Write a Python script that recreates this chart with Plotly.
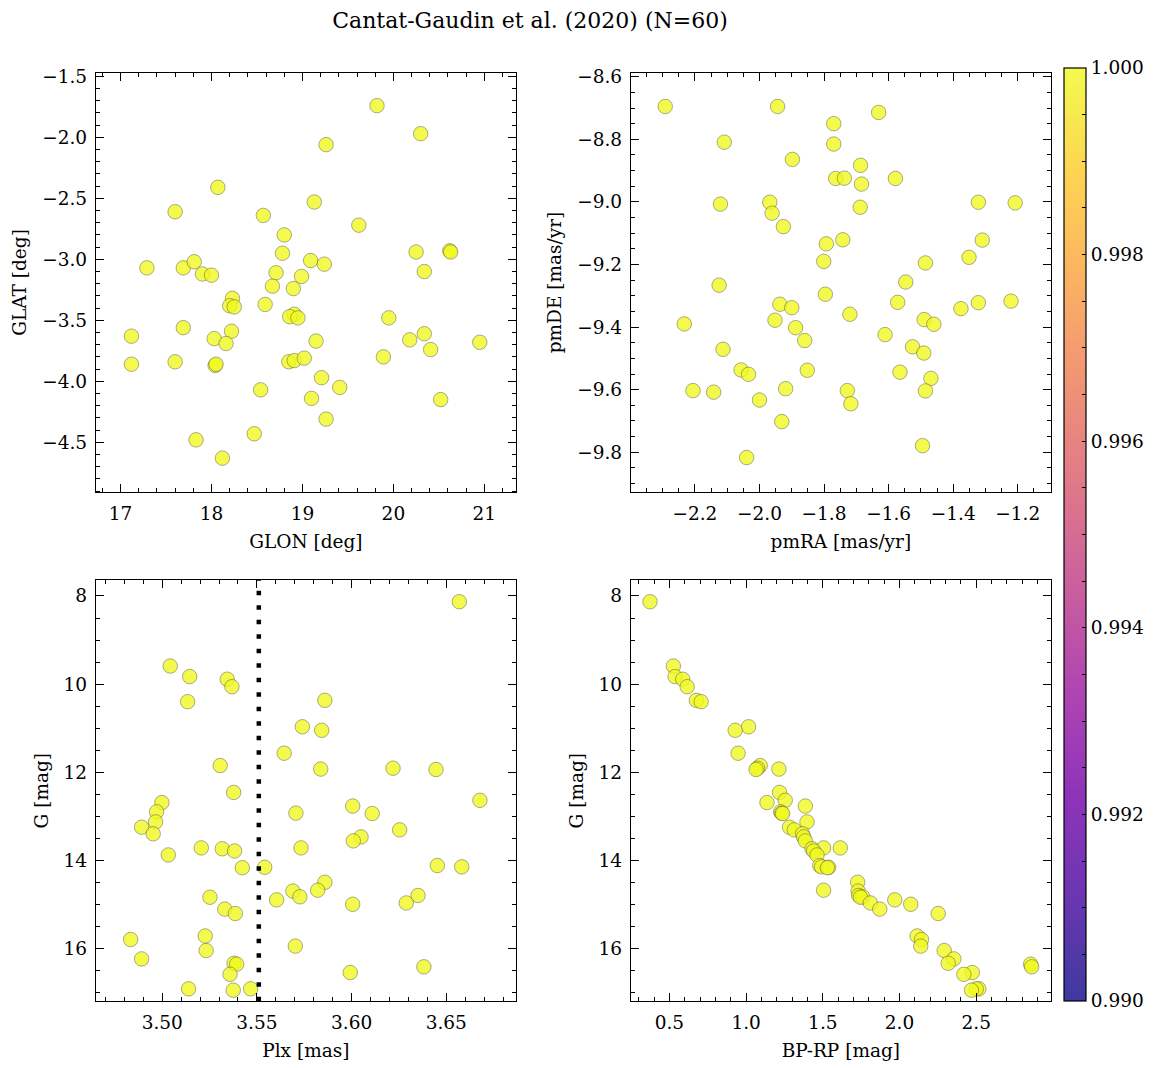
import plotly.graph_objects as go
from plotly.subplots import make_subplots

# galactic coordinates (top left panel)
glon = [19.82, 20.30, 19.26, 18.07, 17.60, 18.57, 19.13, 19.62, 18.80, 18.78,
        20.25, 20.62, 20.63, 20.34, 17.29, 17.69, 17.81, 17.90, 18.00, 18.71,
        18.67, 18.99, 19.09, 19.24, 18.90, 18.23, 18.20, 18.25, 18.59, 18.91,
        18.86, 18.95, 19.95, 17.12, 17.69, 18.03, 18.22, 18.16, 19.15, 20.18,
        20.34, 20.41, 20.95, 17.12, 17.60, 18.04, 18.05, 18.85, 18.91, 19.02,
        19.89, 19.21, 19.41, 18.54, 19.10, 20.52, 19.26, 18.47, 17.83, 18.12]
glat = [-1.74, -1.97, -2.06, -2.41, -2.61, -2.64, -2.53, -2.72, -2.80, -2.95,
        -2.94, -2.93, -2.94, -3.10, -3.07, -3.07, -3.02, -3.12, -3.13, -3.11,
        -3.22, -3.14, -3.01, -3.04, -3.24, -3.32, -3.38, -3.39, -3.37, -3.45,
        -3.47, -3.48, -3.48, -3.63, -3.56, -3.65, -3.59, -3.69, -3.67, -3.66,
        -3.61, -3.74, -3.68, -3.86, -3.84, -3.87, -3.86, -3.84, -3.83, -3.81,
        -3.80, -3.97, -4.05, -4.07, -4.14, -4.15, -4.31, -4.43, -4.48, -4.63]

# proper motions (top right panel)
pmra = [-2.292, -1.944, -1.631, -1.770, -2.109, -1.770, -1.898, -1.687, -1.764, -1.737,
        -1.684, -1.579, -2.121, -1.968, -1.961, -1.688, -1.322, -1.208, -1.926, -1.793,
        -1.742, -1.310, -1.801, -1.351, -1.486, -1.547, -2.125, -1.796, -1.937, -1.900,
        -1.572, -1.376, -1.322, -1.221, -1.720, -2.233, -1.952, -1.888, -1.490, -1.460,
        -1.860, -1.611, -1.526, -1.491, -2.113, -2.057, -2.034, -1.852, -1.565, -1.469,
        -2.206, -2.142, -1.919, -2.000, -1.728, -1.717, -1.486, -1.931, -1.495, -2.040]
pmde = [-8.695, -8.695, -8.714, -8.750, -8.809, -8.815, -8.864, -8.883, -8.925, -8.924,
        -8.943, -8.925, -9.007, -9.001, -9.036, -9.017, -9.001, -9.003, -9.079, -9.134,
        -9.121, -9.122, -9.190, -9.177, -9.195, -9.256, -9.266, -9.295, -9.327, -9.338,
        -9.321, -9.341, -9.322, -9.317, -9.359, -9.390, -9.378, -9.402, -9.376, -9.391,
        -9.443, -9.424, -9.463, -9.483, -9.471, -9.537, -9.551, -9.538, -9.544, -9.564,
        -9.603, -9.608, -9.597, -9.633, -9.603, -9.645, -9.604, -9.702, -9.779, -9.817]

# photometry + parallax (bottom panels), same star order
g_mag = [8.13, 9.59, 9.83, 9.89, 10.06, 10.37, 10.40, 10.97, 11.05, 11.57,
         11.85, 11.91, 11.93, 11.94, 12.46, 12.64, 12.69, 12.77, 12.90, 12.93,
         12.94, 13.13, 13.25, 13.31, 13.40, 13.47, 13.56, 13.72, 13.72, 13.74,
         13.79, 13.88, 14.12, 14.15, 14.16, 14.17, 14.50, 14.68, 14.70, 14.80,
         14.83, 14.84, 14.90, 14.97, 15.00, 15.11, 15.21, 15.72, 15.80, 15.95,
         16.05, 16.24, 16.34, 16.36, 16.42, 16.55, 16.59, 16.92, 16.92, 16.95]
plx = [3.6569, 3.5042, 3.5145, 3.5343, 3.5368, 3.5859, 3.5134, 3.5740, 3.5842, 3.5644,
       3.5306, 3.6219, 3.5837, 3.6446, 3.5377, 3.6678, 3.4998, 3.6006, 3.4970, 3.5706,
       3.6109, 3.4965, 3.4891, 3.6254, 3.4952, 3.6050, 3.6009, 3.5206, 3.5733, 3.5317,
       3.5382, 3.5032, 3.6453, 3.6582, 3.5541, 3.5423, 3.5859, 3.5821, 3.5690, 3.6351,
       3.5727, 3.5252, 3.5604, 3.6289, 3.6006, 3.5330, 3.5386, 3.5227, 3.4833, 3.5703,
       3.5232, 3.4891, 3.5379, 3.5393, 3.6382, 3.5993, 3.5358, 3.5139, 3.5467, 3.5375]
bp_rp = [0.374, 0.526, 0.537, 0.587, 0.616, 0.676, 0.707, 1.016, 0.929, 0.948,
         1.092, 1.075, 1.214, 1.065, 1.218, 1.255, 1.136, 1.386, 1.225, 1.232,
         1.238, 1.397, 1.283, 1.314, 1.368, 1.375, 1.386, 1.505, 1.614, 1.430,
         1.440, 1.462, 1.480, 1.492, 1.538, 1.530, 1.727, 1.505, 1.730, 1.734,
         1.760, 1.745, 1.969, 1.810, 2.073, 1.871, 2.252, 2.115, 2.143, 2.138,
         2.291, 2.354, 2.317, 2.854, 2.861, 2.474, 2.419, 2.517, 2.500, 2.469]

# membership probability (all members at 1.0)
proba = [1.0, 1.0, 1.0, 1.0, 1.0, 1.0, 1.0, 1.0, 1.0, 1.0,
         1.0, 1.0, 1.0, 1.0, 1.0, 1.0, 1.0, 1.0, 1.0, 1.0,
         1.0, 1.0, 1.0, 1.0, 1.0, 1.0, 1.0, 1.0, 1.0, 1.0,
         1.0, 1.0, 1.0, 1.0, 1.0, 1.0, 1.0, 1.0, 1.0, 1.0,
         1.0, 1.0, 1.0, 1.0, 1.0, 1.0, 1.0, 1.0, 1.0, 1.0,
         1.0, 1.0, 1.0, 1.0, 1.0, 1.0, 1.0, 1.0, 1.0, 1.0]

plx_cut = 3.551
cb_ticks = [0.990, 0.9905, 0.991, 0.9915, 0.992, 0.9925, 0.993, 0.9935, 0.994, 0.9945,
            0.995, 0.9955, 0.996, 0.9965, 0.997, 0.9975, 0.998, 0.9985, 0.999, 0.9995, 1.000]

W, H = 1161, 1068
OFF = 8  # page body margin
FONT = "DejaVu Serif"
FS = 18.5

plasma = ['#0d0887', '#46039f', '#7201a8', '#9c179e', '#bd3786',
          '#d8576b', '#ed7953', '#fb9f3a', '#fdca26', '#f0f921']


def rgba(h, a=0.8):
    h = h.lstrip('#')
    return 'rgba({},{},{},{})'.format(int(h[0:2], 16), int(h[2:4], 16), int(h[4:6], 16), a)


def fx(p):
    return (p - OFF) / W


def fy(p):
    return 1 - (p - OFF) / H


cscale = [[i / (len(plasma) - 1), rgba(c)] for i, c in enumerate(plasma)]

fig = make_subplots(rows=2, cols=2)

marker = dict(size=14.5, color=proba, coloraxis="coloraxis",
              line=dict(color="rgba(60,60,60,0.7)", width=0.6))

fig.add_trace(go.Scatter(x=glon, y=glat, mode="markers", marker=marker), row=1, col=1)
fig.add_trace(go.Scatter(x=pmra, y=pmde, mode="markers", marker=marker), row=1, col=2)
fig.add_trace(go.Scatter(x=plx, y=g_mag, mode="markers", marker=marker), row=2, col=1)
fig.add_trace(go.Scatter(x=bp_rp, y=g_mag, mode="markers", marker=marker), row=2, col=2)

fig.add_shape(type="line", x0=plx_cut, x1=plx_cut, y0=0, y1=1, xref="x3", yref="y3 domain",
              line=dict(color="black", width=4.5, dash="4.5px,10px"))

axis_style = dict(showline=True, linecolor="black", linewidth=1.3, mirror="allticks",
                  ticks="inside", ticklen=8, tickwidth=1.1, tickcolor="black",
                  showgrid=False, zeroline=False, ticklabelstandoff=4, automargin=False,
                  tickfont=dict(family=FONT, size=FS, color="black"),
                  title_font=dict(family=FONT, size=FS, color="black"))

xl, xr = [fx(96), fx(515.7)], [fx(631), fx(1050.7)]
yt, yb = [fy(492.3), fy(72.7)], [fy(1001.3), fy(580)]

fig.update_xaxes(axis_style)
fig.update_yaxes(axis_style)

fig.update_xaxes(row=1, col=1, domain=xl, range=[16.73, 21.345], dtick=1, tick0=17,
                 minor=dict(dtick=0.2, ticks="inside", ticklen=4, tickcolor="black"),
                 title=dict(text="GLON [deg]", standoff=12))
fig.update_yaxes(row=1, col=1, domain=yt, range=[-4.91, -1.47], dtick=0.5, tick0=-1.5,
                 tickformat=".1f",
                 minor=dict(dtick=0.1, ticks="inside", ticklen=4, tickcolor="black"),
                 title=dict(text="GLAT [deg]", standoff=10))

fig.update_xaxes(row=1, col=2, domain=xr, range=[-2.398, -1.098], dtick=0.2, tick0=-2.2,
                 tickformat=".1f",
                 minor=dict(dtick=0.05, ticks="inside", ticklen=4, tickcolor="black"),
                 title=dict(text="pmRA [mas/yr]", standoff=12))
fig.update_yaxes(row=1, col=2, domain=yt, range=[-9.928, -8.587], dtick=0.2, tick0=-8.6,
                 tickformat=".1f",
                 minor=dict(dtick=0.05, ticks="inside", ticklen=4, tickcolor="black"),
                 title=dict(text="pmDE [mas/yr]", standoff=10))

fig.update_xaxes(row=2, col=1, domain=xl, range=[3.465, 3.6867], dtick=0.05, tick0=3.5,
                 tickformat=".2f",
                 minor=dict(dtick=0.01, ticks="inside", ticklen=4, tickcolor="black"),
                 title=dict(text="Plx [mas]", standoff=12))
fig.update_yaxes(row=2, col=1, domain=yb, range=[17.203, 7.637], dtick=2, tick0=8,
                 minor=dict(dtick=0.5, ticks="inside", ticklen=4, tickcolor="black"),
                 title=dict(text="G [mag]", standoff=10))

fig.update_xaxes(row=2, col=2, domain=xr, range=[0.25, 2.985], dtick=0.5, tick0=0.5,
                 tickformat=".1f",
                 minor=dict(dtick=0.1, ticks="inside", ticklen=4, tickcolor="black"),
                 title=dict(text="BP-RP [mag]", standoff=12))
fig.update_yaxes(row=2, col=2, domain=yb, range=[17.203, 7.637], dtick=2, tick0=8,
                 minor=dict(dtick=0.5, ticks="inside", ticklen=4, tickcolor="black"),
                 title=dict(text="G [mag]", standoff=10))

fig.update_layout(
    width=W, height=H,
    margin=dict(l=0, r=0, t=0, b=0, autoexpand=False),
    paper_bgcolor="white", plot_bgcolor="white",
    showlegend=False,
    font=dict(family=FONT, size=FS, color="black"),
    title=dict(text="Cantat-Gaudin et al. (2020) (N=60)", x=fx(530), xanchor="center",
               y=fy(20), yanchor="middle", font=dict(family=FONT, size=22, color="black")),
    coloraxis=dict(
        colorscale=cscale, cmin=0.99, cmax=1.0,
        colorbar=dict(
            x=fx(1064), xanchor="left", xpad=0,
            y=fy(68), yanchor="top", ypad=0,
            len=(1001 - 68) / H, lenmode="fraction",
            thickness=22, thicknessmode="pixels",
            outlinecolor="black", outlinewidth=1.2,
            ticks="inside", ticklen=4, tickcolor="black",
            tickvals=cb_ticks,
            ticktext=["{:.3f}".format(v) if i % 4 == 0 else "" for i, v in enumerate(cb_ticks)],
            tickfont=dict(family=FONT, size=FS, color="black"),
        ),
    ),
)

fig.write_html("out.html")
